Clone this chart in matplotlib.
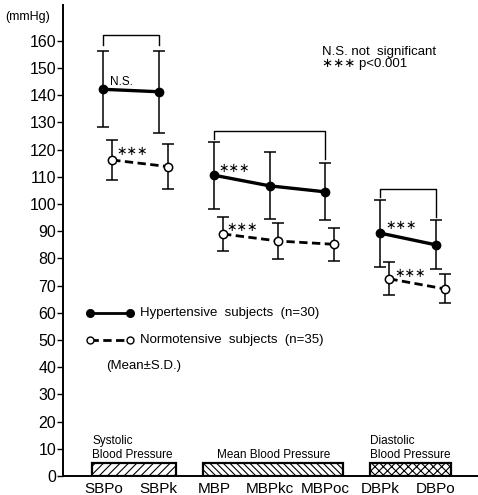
import matplotlib
matplotlib.use("Agg")
import matplotlib.pyplot as plt
import numpy as np

plt.rcParams['font.family'] = ['Liberation Sans', 'DejaVu Sans']
plt.rcParams['hatch.linewidth'] = 0.8

categories = ["SBPo", "SBPk", "MBP", "MBPkc", "MBPoc", "DBPk", "DBPo"]
hyper_mean = [142.2, 141.3, 110.6, 106.7, 104.5, 89.3, 85.0]
hyper_sd = [14.0, 15.1, 12.4, 12.3, 10.5, 12.3, 9.0]
normo_mean = [116.2, 113.8, 89.0, 86.4, 85.2, 72.5, 68.8]
normo_sd = [7.2, 8.4, 6.2, 6.6, 6.0, 6.1, 5.3]
yticks = list(range(0, 161, 10))

groups = [("Systolic\nBlood Pressure", -0.2, 1.31, "////"),
          ("Mean Blood Pressure", 1.80, 4.33, "\\\\\\\\\\"),
          ("Diastolic\nBlood Pressure", 4.81, 6.28, "xxxx")]

fig = plt.figure(figsize=(4.78, 4.95), dpi=100)
ax = fig.add_axes([63/478, 19/495, (478-63)/478, (476-5)/495])

x = np.arange(len(categories))
off = 0.16
xn = x + off

# error bars
ax.errorbar(x, hyper_mean, yerr=hyper_sd, fmt='none', ecolor='black',
            elinewidth=1.1, capsize=4, capthick=1.1, zorder=2)
ax.errorbar(xn, normo_mean, yerr=normo_sd, fmt='none', ecolor='black',
            elinewidth=1.1, capsize=4, capthick=1.1, zorder=2)

segs = [(0, 2), (2, 5), (5, 7)]
for a, b in segs:
    ax.plot(x[a:b], hyper_mean[a:b], '-', color='black', lw=2.4,
            marker='o', ms=6, mfc='black', mec='black', zorder=3)
    ax.plot(xn[a:b], normo_mean[a:b], '--', color='black', lw=2.0,
            dashes=(3, 1.6), marker='o', ms=6, mfc='white', mec='black',
            mew=1.1, zorder=3)

# brackets
brackets = [(0, 1, 162, 158.5, 158.5), (2, 4, 127, 124, 116.5), (5, 6, 105.5, 102.7, 95.3)]
for a, b, top, la, lb in brackets:
    ax.plot([x[a], x[a], x[b], x[b]], [la, top, top, lb], color='black', lw=1.0)

# annotations
ax.text(x[0] + 0.12, 145, "N.S.", fontsize=8.5, va='center', ha='left')
star_pos = [(xn[0] + 0.08, 119.5), (x[2] + 0.07, 113), (xn[2] + 0.07, 91.5),
            (x[5] + 0.09, 92), (xn[5] + 0.1, 74.5)]
for sx, sy in star_pos:
    ax.text(sx, sy, "∗∗∗", fontsize=9, va='center', ha='left',
            family=['DejaVu Sans'])

ax.text(3.95, 156, "N.S. not  significant", fontsize=9.5, va='center', ha='left')
ax.text(3.95, 151.5, "∗∗∗ p<0.001", fontsize=9.5, va='center', ha='left',
        family=['Liberation Sans', 'DejaVu Sans'])

# legend (drawn manually)
ax.plot([-0.24, 0.48], [60, 60], '-', color='black', lw=2.0, marker='o', ms=5.5,
        mfc='black', mec='black')
ax.text(0.66, 60, "Hypertensive  subjects  (n=30)", fontsize=9.5, va='center', ha='left')
ax.plot([-0.24, 0.48], [50, 50], '--', color='black', lw=2.0, dashes=(3, 1.6),
        marker='o', ms=5, mfc='white', mec='black', mew=1.0)
ax.text(0.66, 50, "Normotensive  subjects  (n=35)", fontsize=9.5, va='center', ha='left')
ax.text(0.05, 40.5, "(Mean±S.D.)", fontsize=9.5, va='center', ha='left')

# bottom group bars
for label, x0, x1, hatch in groups:
    ax.bar(x0, 4.8, width=x1 - x0, align='edge', facecolor='white',
           edgecolor='black', lw=1.6, hatch=hatch, zorder=2)
ax.text(groups[0][1], 10.2, groups[0][0], fontsize=8.5, va='center', ha='left',
        linespacing=1.25)
ax.text((groups[1][1] + groups[1][2]) / 2, 7.7, groups[1][0], fontsize=8.5,
        va='center', ha='center')
ax.text(groups[2][1], 10.2, groups[2][0], fontsize=8.5, va='center', ha='left',
        linespacing=1.25)

ax.set_xlim(-0.727, 6.76)
ax.set_ylim(0, 173.2)
ax.set_yticks(yticks)
ax.set_yticklabels([str(v) for v in yticks], fontsize=11.5)
ax.set_xticks(x)
ax.set_xticklabels(categories, fontsize=11)
ax.tick_params(axis='x', length=0, pad=4)
ax.tick_params(axis='y', length=4, width=1.0, pad=1, direction='out')
for s in ['top', 'right']:
    ax.spines[s].set_visible(False)
ax.spines['left'].set_linewidth(1.4)
ax.spines['bottom'].set_linewidth(1.4)

fig.text(5/478, 1 - 17/495, "(mmHg)", fontsize=9, va='center', ha='left')

fig.savefig("out.png", dpi=100)
